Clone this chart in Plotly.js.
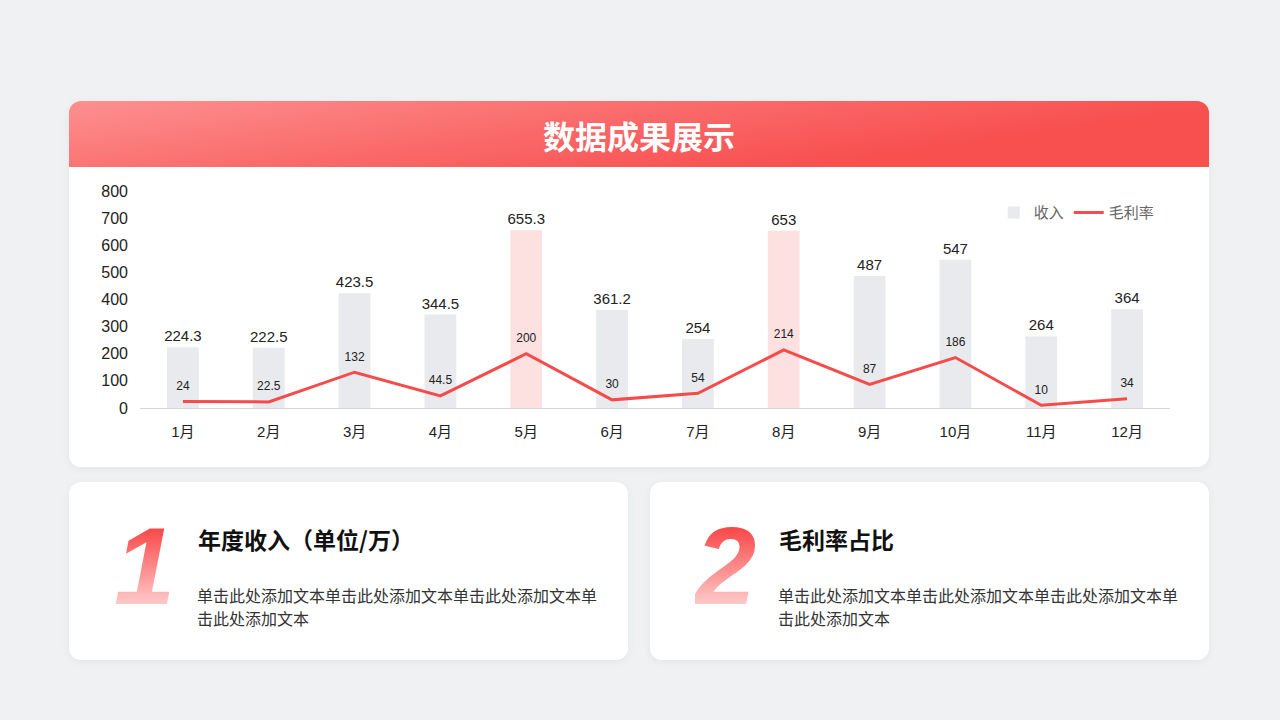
<!DOCTYPE html>
<html>
<head>
<meta charset="utf-8">
<script src="https://cdn.plot.ly/plotly-3.0.1.min.js"></script>
<style>
  html, body { margin: 0; padding: 0; }
  body {
    width: 1280px; height: 720px; overflow: hidden;
    background: #f0f1f3; position: relative;
    font-family: "Liberation Sans", "Noto Sans CJK SC", sans-serif;
  }
  .card {
    position: absolute; background: #fff; border-radius: 12px;
    box-shadow: 0 2px 10px rgba(0,0,0,0.05);
  }
  #top { left: 69px; top: 101px; width: 1140px; height: 366px; overflow: hidden; }
  #head {
    position: absolute; left: 0; top: 0; width: 100%; height: 66px;
    background: linear-gradient(172deg, #fd9090 0%, #fa6b6b 40%, #f84f4f 75%, #f84f4f 100%);
    color: #fff; font-size: 32px; font-weight: bold; text-align: center; line-height: 68px;
    font-family: "Noto Sans CJK SC", sans-serif;
  }
  #chart { position: absolute; left: 0; top: 66px; width: 1140px; height: 300px; }
  .num {
    position: absolute; font-family: "Liberation Sans", sans-serif;
    font-size: 110px; font-weight: bold; font-style: italic; line-height: 1;
    background: linear-gradient(180deg, #f94747 15%, #ffd3d3 90%);
    -webkit-background-clip: text; background-clip: text; color: transparent;
  }
  .ttl {
    position: absolute; font-family: "Noto Sans CJK SC", sans-serif;
    font-size: 23px; font-weight: bold; color: #111;
  }
  .txt {
    position: absolute; font-family: "Noto Sans CJK SC", sans-serif;
    font-size: 16px; line-height: 23px; color: #333; width: 410px;
  }
</style>
</head>
<body>
<div class="card" id="top">
  <div id="head">数据成果展示</div>
  <div id="chart"></div>
</div>

<div class="card" style="left:69px; top:482px; width:559px; height:178px;">
  <div class="num" style="left:45px; top:29px;">1</div>
  <div class="ttl" style="left:129px; top:40px;">年度收入（单位/万）</div>
  <div class="txt" style="left:128px; top:102px;">单击此处添加文本单击此处添加文本单击此处添加文本单击此处添加文本</div>
</div>

<div class="card" style="left:650px; top:482px; width:559px; height:178px;">
  <div class="num" style="left:45px; top:29px;">2</div>
  <div class="ttl" style="left:129px; top:40px;">毛利率占比</div>
  <div class="txt" style="left:128px; top:102px;">单击此处添加文本单击此处添加文本单击此处添加文本单击此处添加文本</div>
</div>

<script>
const months = ['1月', '2月', '3月', '4月', '5月', '6月', '7月', '8月', '9月', '10月', '11月', '12月'];
const revenue = [224.3, 222.5, 423.5, 344.5, 655.3, 361.2, 254, 653, 487, 547, 264, 364];
const margin = [24, 22.5, 132, 44.5, 200, 30, 54, 214, 87, 186, 10, 34];
const highlight = ['5月', '8月'];

let barColors = months.map(m => highlight.includes(m) ? '#fde1e1' : '#e8eaed');

let barTrace = {
    x: months,
    y: revenue,
    type: 'bar',
    name: '收入',
    width: 0.37,
    marker: { color: barColors },
    text: revenue.map(String),
    textposition: 'outside',
    constraintext: 'none',
    cliponaxis: false,
    textfont: { size: 15, color: '#222' },
    hoverinfo: 'x+y'
};

// transparent markers only push the labels a bit higher above the line
let lineTrace = {
    x: months,
    y: margin,
    type: 'scatter',
    mode: 'lines+markers+text',
    name: '毛利率',
    line: { color: '#f54b4b', width: 3 },
    marker: { size: 12, color: 'rgba(0,0,0,0)' },
    text: margin.map(String),
    textposition: 'top center',
    cliponaxis: false,
    textfont: { size: 12, color: '#222' }
};

let layout = {
    width: 1140,
    height: 300,
    margin: { l: 71, r: 39, t: 24, b: 59 },
    paper_bgcolor: 'rgba(0,0,0,0)',
    plot_bgcolor: 'rgba(0,0,0,0)',
    font: { family: '"Liberation Sans", "Noto Sans CJK SC", sans-serif', size: 15, color: '#222' },
    showlegend: true,
    legend: {
        orientation: 'h',
        x: 0.99, xanchor: 'right',
        y: 0.9, yanchor: 'middle',
        font: { size: 15, color: '#666' },
        itemwidth: 30,
        tracegroupgap: 0
    },
    xaxis: {
        range: [-0.5, 11.5],
        autorange: false,
        showgrid: false,
        zeroline: false,
        showline: true,
        linecolor: '#d6d6d6',
        linewidth: 1,
        ticks: '',
        ticklabelstandoff: 10,
        tickfont: { size: 15, color: '#222' }
    },
    yaxis: {
        range: [0, 800],
        autorange: false,
        dtick: 100,
        showgrid: false,
        zeroline: false,
        showline: false,
        ticks: '',
        ticklabelstandoff: 11,
        tickfont: { size: 16, color: '#222' }
    }
};

Plotly.newPlot('chart', [barTrace, lineTrace], layout, { displayModeBar: false, staticPlot: true });
</script>
</body>
</html>
